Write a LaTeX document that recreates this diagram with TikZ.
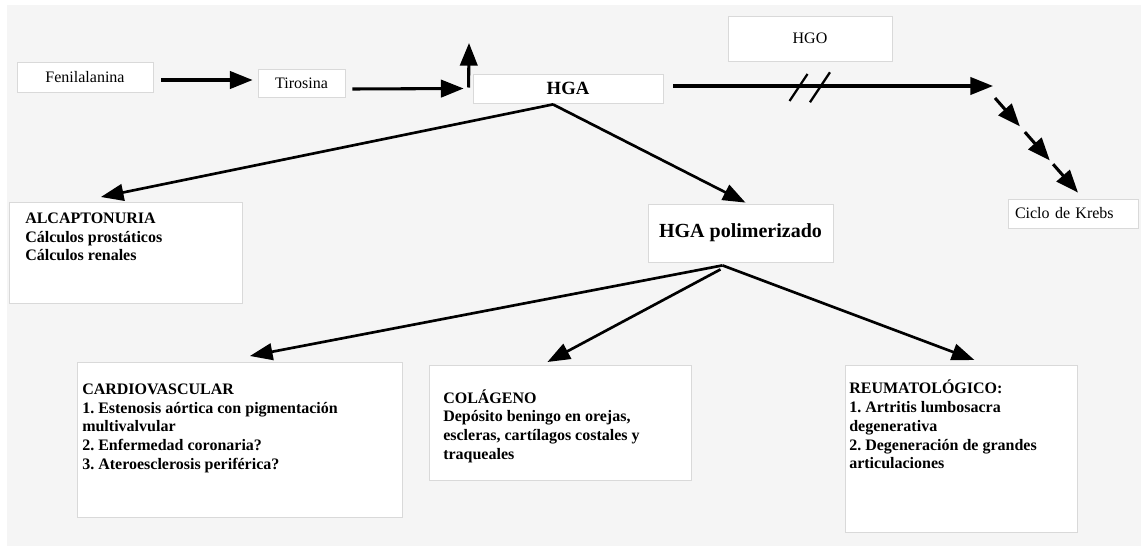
\documentclass[tikz,border=0pt]{standalone}
\usepackage{fontspec}
\setmainfont{Liberation Serif}
\usetikzlibrary{arrows.meta,calc}

\begin{document}
\begin{tikzpicture}[x=0.75pt,y=-0.75pt]

      \tikzset{box/.style={draw=black!15, fill=white, line width=0.6pt, inner sep=0pt, font=\fontsize{12}{14}\selectfont},
               txt/.style={anchor=north west, inner sep=0pt, align=left, font=\fontsize{12}{14}\selectfont\bfseries},
               arr/.style={line width=2.3pt, -{Triangle[length=17pt,width=13pt]}},
               diag/.style={line width=2pt, -{Triangle[length=17pt,width=12.5pt]}},
               cut/.style={line width=1.7pt}}

%% Background
      \fill[white] (0,0) rectangle (1141,546);
      \fill[black!4] (7,5) rectangle (1141,546);
      \useasboundingbox (0,0) rectangle (1141,546);

%% Vertices
      	\node[box, minimum width=102pt, minimum height=22.5pt] (fen) at (85,77) {Fenilalanina};
      	\node[box, minimum width=65.25pt, minimum height=21pt] (tir) at (301.5,83) {Tirosina};
      	\node[box, minimum width=142.5pt, minimum height=21.75pt, font=\fontsize{14}{16}\selectfont\bfseries] (hga) at (568,88.5) {HGA};
      	\node[box, minimum width=123pt, minimum height=33.75pt] (hgo) at (810,38.5) {HGO};
      	\node[box, text width=87pt, inner xsep=5.25pt, minimum height=21.75pt, align=left] (krebs) at (1073,213.5) {Ciclo de Krebs};
      	\node[box, minimum width=138.75pt, minimum height=43.5pt, font=\fontsize{15}{17}\selectfont\bfseries] (poli) at (740.5,233) {HGA polimerizado};

      	\node[box, anchor=north west, minimum width=174.75pt, minimum height=75.75pt] (alc) at (9,202) {};
      	\node[box, anchor=north west, minimum width=243.75pt, minimum height=116.25pt] (cardio) at (77,362) {};
      	\node[box, anchor=north west, minimum width=196.5pt, minimum height=86.25pt] (colag) at (429,365) {};
      	\node[box, anchor=north west, minimum width=174pt, minimum height=125.25pt] (reuma) at (845,365) {};

      	\node[txt] (alctxt) at ($(alc.north west)+(16,8)$) {\strut ALCAPTONURIA\\C\'alculos prost\'aticos\\C\'alculos renales};
      	\node[txt] (cardiotxt) at ($(cardio.north west)+(5,19)$) {\strut CARDIOVASCULAR\\1.\ Estenosis a\'ortica con pigmentaci\'on\\multivalvular\\2.\ Enfermedad coronaria?\\3.\ Ateroesclerosis perif\'erica?};
      	\node[txt] (colagtxt) at ($(colag.north west)+(14,24)$) {\strut COL\'AGENO\\Dep\'osito beningo en orejas,\\escleras, cart\'ilagos costales y\\traqueales};
      	\node[txt] (reumatxt) at ($(reuma.north west)+(4,15)$) {\strut REUMATOL\'OGICO:\\1.\ Artritis lumbosacra\\degenerativa\\2.\ Degeneraci\'on de grandes\\articulaciones};

      	\coordinate (up) at (469,43);
      	\coordinate (k0) at (993,86);
      	\coordinate (k1) at (995,98);
      	\coordinate (kend) at ($(krebs.north)+(5,-6)$);
      	\coordinate (hb) at ($(hga.south)+(-15,1)$);
      	\coordinate (pb) at ($(poli.south)+(-18,3)$);

%Edges
		\path ($(fen.east)+(8,3)$) edge[arr] ($(tir.west)+(-5,-3)$);
		\path ($(tir.east)+(7,6)$) edge[arr] ($(hga.west)+(-9,0)$);
		\path ($(hga.west)+(-4,-1)$) edge[arr] (up);
		\path ($(hga.east)+(10,-2.5)$) edge[arr] (k0);
		\draw[cut] ($(hga.east)!0.41!(k0)$) ++(-9,13.5) -- ++(18,-27);
		\draw[cut] ($(hga.east)!0.475!(k0)$) ++(-10,15) -- ++(20,-30);
		\path (k1) edge[arr] ($(k1)!0.3!(kend)$);
		\path ($(k1)!0.36!(kend)$) edge[arr] ($(k1)!0.66!(kend)$);
		\path ($(k1)!0.7!(kend)$) edge[arr] (kend);
		\path (hb) edge[diag] ($(alc.north)+(-25,-5)$);
		\path (hb) edge[diag] ($(poli.north)+(5,-1)$);
		\path (pb) edge[diag] ($(cardio.north)+(10,-6)$);
		\path ($(pb)+(-2,4)$) edge[diag] ($(colag.north)+(-13,-3)$);
		\path (pb) edge[diag] ($(reuma.north)+(13,-5)$);
	\end{tikzpicture}
\end{document}
